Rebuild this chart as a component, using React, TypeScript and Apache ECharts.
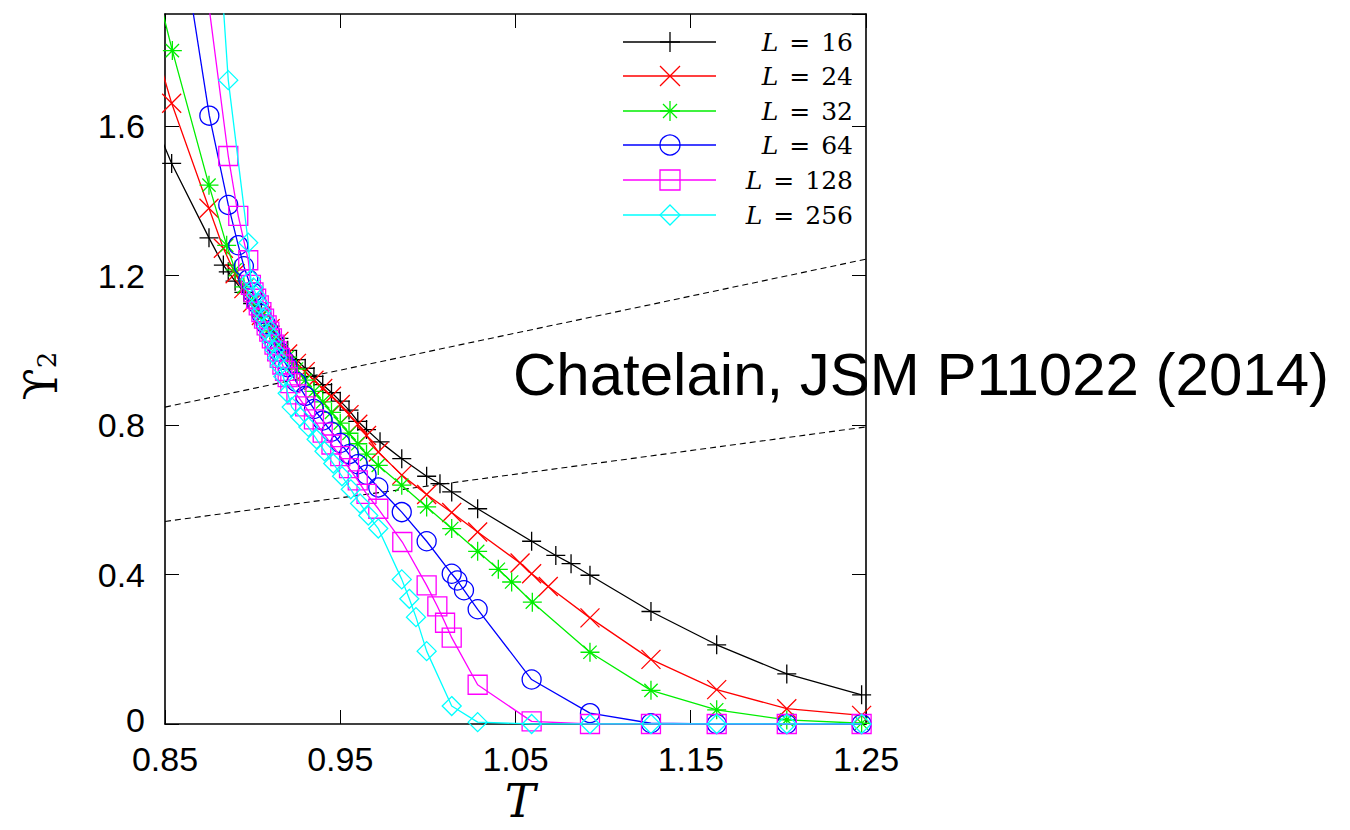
import React, { useEffect, useRef } from 'react';
import * as echarts from 'echarts';

// Axes
const X_MIN = 0.85;
const X_MAX = 1.25;
const X_STEP = 0.1;
const Y_MIN = 0;
const Y_MAX = 1.9;
const Y_STEP = 0.4;

// Series labels / colours
const SIZES = ['16', '24', '32', '64', '128', '256'];
const COLORS = ['#000000', '#ff0000', '#00ee00', '#0000ff', '#ff00ff', '#00ffff'];

// L = 16
const T16 = [0.8333, 0.8538, 0.8751, 0.8833, 0.8861, 0.89, 0.895, 0.9, 0.905, 0.91, 0.915, 0.92, 0.925, 0.93, 0.935, 0.94, 0.945, 0.95, 0.955, 0.96, 0.965, 0.9727, 0.9851, 0.9993, 1.0069, 1.0136, 1.0284, 1.0592, 1.073, 1.0817, 1.0925, 1.1273, 1.1648, 1.2048, 1.2475];
const Y16 = [1.73, 1.5, 1.301, 1.228, 1.21, 1.185, 1.155, 1.125, 1.095, 1.065, 1.032, 1.0, 0.975, 0.952, 0.93, 0.908, 0.887, 0.864, 0.84, 0.81, 0.788, 0.755, 0.71, 0.663, 0.643, 0.621, 0.576, 0.489, 0.451, 0.429, 0.398, 0.301, 0.212, 0.134, 0.078];

// L = 24
const T24 = [0.8333, 0.8538, 0.8751, 0.8833, 0.89, 0.895, 0.9, 0.905, 0.91, 0.915, 0.92, 0.925, 0.93, 0.935, 0.94, 0.945, 0.95, 0.955, 0.96, 0.965, 0.9717, 0.9851, 0.9993, 1.0136, 1.0284, 1.0526, 1.0592, 1.0687, 1.0925, 1.1273, 1.1648, 1.2048, 1.2475];
const Y24 = [1.99, 1.661, 1.38, 1.273, 1.205, 1.165, 1.128, 1.093, 1.058, 1.024, 0.99, 0.965, 0.943, 0.92, 0.898, 0.877, 0.855, 0.828, 0.802, 0.772, 0.728, 0.666, 0.614, 0.566, 0.514, 0.431, 0.402, 0.368, 0.284, 0.173, 0.092, 0.041, 0.023];

// L = 32
const T32 = [0.8333, 0.8542, 0.8751, 0.8852, 0.89, 0.895, 0.9, 0.905, 0.91, 0.915, 0.92, 0.925, 0.93, 0.935, 0.94, 0.945, 0.95, 0.955, 0.96, 0.965, 0.9717, 0.9851, 0.9993, 1.0136, 1.0284, 1.0402, 1.0478, 1.0596, 1.0925, 1.1273, 1.1648, 1.2048, 1.2475];
const Y32 = [2.19, 1.802, 1.442, 1.281, 1.215, 1.17, 1.13, 1.09, 1.052, 1.016, 0.982, 0.95, 0.92, 0.89, 0.862, 0.834, 0.805, 0.778, 0.75, 0.722, 0.692, 0.639, 0.581, 0.523, 0.462, 0.414, 0.38, 0.326, 0.192, 0.09, 0.038, 0.011, 0.002];

// L = 64
const T64 = [0.8333, 0.8538, 0.8753, 0.8861, 0.8918, 0.895, 0.8975, 0.9, 0.9025, 0.905, 0.9075, 0.91, 0.9125, 0.915, 0.9175, 0.92, 0.925, 0.93, 0.935, 0.94, 0.945, 0.95, 0.955, 0.96, 0.965, 0.9717, 0.9851, 0.9993, 1.0136, 1.0168, 1.0206, 1.0284, 1.0592, 1.0925, 1.1273, 1.1648, 1.2048, 1.2475];
const Y64 = [2.8, 2.27, 1.628, 1.389, 1.281, 1.225, 1.19, 1.155, 1.125, 1.097, 1.07, 1.045, 1.02, 0.997, 0.975, 0.955, 0.915, 0.878, 0.843, 0.812, 0.782, 0.752, 0.722, 0.695, 0.667, 0.633, 0.567, 0.489, 0.402, 0.384, 0.358, 0.307, 0.119, 0.029, 0.002, 0.0, 0.0, 0.0];

// L = 128
const T128 = [0.8538, 0.8751, 0.8861, 0.8918, 0.8975, 0.899, 0.9005, 0.902, 0.9035, 0.905, 0.9065, 0.908, 0.9095, 0.911, 0.9125, 0.914, 0.9155, 0.917, 0.9185, 0.92, 0.9215, 0.925, 0.93, 0.935, 0.94, 0.945, 0.95, 0.955, 0.96, 0.965, 0.9717, 0.9854, 0.9993, 1.0054, 1.0098, 1.0136, 1.0284, 1.0592, 1.0925, 1.1273, 1.1648, 1.2048, 1.2475];
const Y128 = [2.6, 1.92, 1.52, 1.36, 1.241, 1.175, 1.155, 1.138, 1.12, 1.102, 1.085, 1.067, 1.05, 1.032, 1.015, 0.997, 0.98, 0.962, 0.945, 0.928, 0.912, 0.882, 0.85, 0.815, 0.78, 0.748, 0.717, 0.685, 0.652, 0.616, 0.576, 0.487, 0.371, 0.315, 0.271, 0.231, 0.105, 0.007, 0.0, 0.0, 0.0, 0.0, 0.0];

// L = 256
const T256 = [0.875, 0.8861, 0.8975, 0.899, 0.9005, 0.902, 0.9035, 0.905, 0.9065, 0.908, 0.9095, 0.911, 0.9125, 0.914, 0.9155, 0.9175, 0.92, 0.9223, 0.927, 0.9318, 0.9365, 0.941, 0.946, 0.951, 0.956, 0.9613, 0.966, 0.9717, 0.9851, 0.9894, 0.9932, 0.9993, 1.0136, 1.0284, 1.0592, 1.0925, 1.1273, 1.1648, 1.2048, 1.2475];
const Y256 = [2.5, 1.723, 1.288, 1.19, 1.168, 1.147, 1.126, 1.105, 1.085, 1.064, 1.043, 1.022, 1.001, 0.98, 0.958, 0.93, 0.885, 0.848, 0.822, 0.795, 0.762, 0.73, 0.697, 0.663, 0.628, 0.59, 0.558, 0.523, 0.387, 0.335, 0.286, 0.195, 0.048, 0.005, 0.0, 0.0, 0.0, 0.0, 0.0, 0.0];

// Dashed reference lines
const DASH_T = [0.85, 1.25];
const DASH_UPPER = [0.848, 1.244];
const DASH_LOWER = [0.542, 0.795];

const NOTE = 'Chatelain, JSM P11022 (2014)';

const T_SETS = [T16, T24, T32, T64, T128, T256];
const Y_SETS = [Y16, Y24, Y32, Y64, Y128, Y256];

const SYMBOLS = [
  'path://M0,10L20,10M10,0L10,20',
  'path://M0,0L20,20M20,0L0,20',
  'path://M0,10L20,10M10,0L10,20M3,3L17,17M17,3L3,17',
  'circle',
  'rect',
  'diamond',
];

function legendMarker(i: number, cx: number, cy: number, color: string): any[] {
  const r = 10;
  const st = { stroke: color, lineWidth: 1.3, fill: 'none' };
  const ln = (x1: number, y1: number, x2: number, y2: number) => ({ type: 'line', shape: { x1, y1, x2, y2 }, style: st, silent: true });
  if (i === 0) return [ln(cx - r, cy, cx + r, cy), ln(cx, cy - r, cx, cy + r)];
  if (i === 1) return [ln(cx - r, cy - r, cx + r, cy + r), ln(cx + r, cy - r, cx - r, cy + r)];
  if (i === 2) return [ln(cx - r, cy, cx + r, cy), ln(cx, cy - r, cx, cy + r), ln(cx - 7, cy - 7, cx + 7, cy + 7), ln(cx + 7, cy - 7, cx - 7, cy + 7)];
  if (i === 3) return [{ type: 'circle', shape: { cx, cy, r }, style: st, silent: true }];
  if (i === 4) return [{ type: 'rect', shape: { x: cx - r, y: cy - r, width: 2 * r, height: 2 * r }, style: st, silent: true }];
  return [{ type: 'polygon', shape: { points: [[cx, cy - r], [cx + r, cy], [cx, cy + r], [cx - r, cy]] }, style: st, silent: true }];
}

export default function App() {
  const ref = useRef<HTMLDivElement>(null);

  useEffect(() => {
    if (!ref.current) return;
    const chart = echarts.init(ref.current, undefined, { renderer: 'svg' });

    const dataSeries = SIZES.map((s, i) => ({
      type: 'line',
      name: 'L = ' + s,
      data: T_SETS[i].map((t, k) => [t, Y_SETS[i][k]]),
      symbol: SYMBOLS[i],
      symbolSize: 19,
      showSymbol: true,
      lineStyle: { color: COLORS[i], width: 1.3 },
      itemStyle: { color: 'rgba(0,0,0,0)', borderColor: COLORS[i], borderWidth: 1.3 },
      clip: true,
      z: 3 + i,
      silent: true,
      emphasis: { disabled: true },
    }));

    const dashSeries = [DASH_UPPER, DASH_LOWER].map((ys) => ({
      type: 'line',
      data: DASH_T.map((t, k) => [t, ys[k]]),
      symbol: 'none',
      showSymbol: false,
      lineStyle: { color: '#000', width: 1.1, type: [6, 4] },
      clip: true,
      z: 2,
      silent: true,
      emphasis: { disabled: true },
    }));

    const legendRows = [42, 76, 111, 145, 180, 215];
    const legendGraphics: any[] = [];
    SIZES.forEach((s, i) => {
      const y = legendRows[i];
      legendGraphics.push({ type: 'line', shape: { x1: 623, y1: y, x2: 716, y2: y }, style: { stroke: COLORS[i], lineWidth: 1.3 }, silent: true });
      legendGraphics.push(...legendMarker(i, 670, y, COLORS[i]));
      legendGraphics.push({
        type: 'text',
        x: 853,
        y: y,
        silent: true,
        style: {
          text: '{i|L}{e|=}' + s,
          fontFamily: 'DejaVu Serif',
          fontSize: 25,
          fill: '#000',
          align: 'right',
          verticalAlign: 'middle',
          textAlign: 'right',
          textVerticalAlign: 'middle',
          rich: {
            i: { fontFamily: 'DejaVu Serif', fontStyle: 'italic', fontSize: 25, lineHeight: 26 },
            e: { fontFamily: 'DejaVu Serif', fontSize: 25, lineHeight: 26, padding: [0, 11, 0, 11] },
          },
        },
      });
    });

    const axisCommon = {
      type: 'value',
      axisLine: { show: true, onZero: false, lineStyle: { color: '#000', width: 1.6 } },
      axisTick: { show: true, inside: true, length: 14, lineStyle: { color: '#000', width: 1 } },
      splitLine: { show: false },
    };

    chart.setOption({
      animation: false,
      backgroundColor: '#ffffff',
      grid: { left: 165, right: 484, top: 14, bottom: 106, containLabel: false, outerBoundsMode: 'none' },
      xAxis: [
        {
          ...axisCommon,
          position: 'bottom',
          min: X_MIN,
          max: X_MAX,
          interval: X_STEP,
          axisLabel: { show: true, color: '#000', fontSize: 34, lineHeight: 26, fontFamily: 'Liberation Sans', margin: 22 },
        },
        {
          ...axisCommon,
          position: 'top',
          min: X_MIN,
          max: X_MAX,
          interval: X_STEP,
          axisLabel: { show: false },
        },
      ],
      yAxis: [
        {
          ...axisCommon,
          position: 'left',
          min: Y_MIN,
          max: Y_MAX,
          interval: Y_STEP,
          axisLabel: {
            show: true,
            color: '#000',
            fontSize: 34,
            lineHeight: 26,
            fontFamily: 'Liberation Sans',
            margin: 20,
            showMaxLabel: false,
            formatter: (v: number) => (v === 0 ? '{z|0}' : String(v)),
            rich: { z: { fontSize: 34, fontFamily: 'Liberation Sans', color: '#000', lineHeight: 26, padding: [0, 0, 8, 0] } },
          },
        },
        {
          ...axisCommon,
          position: 'right',
          min: Y_MIN,
          max: Y_MAX,
          interval: Y_STEP,
          axisLabel: { show: false },
        },
      ],
      series: [...dashSeries, ...dataSeries],
      graphic: [
        ...legendGraphics,
        {
          type: 'text',
          x: 513,
          y: 374,
          silent: true,
          z: 100,
          style: {
            text: NOTE,
            fontFamily: 'Liberation Sans',
            fontSize: 60,
            lineHeight: 50,
            fill: '#000',
            align: 'left',
            verticalAlign: 'middle',
            textAlign: 'left',
            textVerticalAlign: 'middle',
          },
        },
        {
          type: 'text',
          x: 40,
          y: 376,
          rotation: Math.PI / 2,
          silent: true,
          style: {
            text: '{u|\u03D2}{s|2}',
            fill: '#000',
            align: 'center',
            verticalAlign: 'middle',
            textAlign: 'center',
            textVerticalAlign: 'middle',
            rich: {
              u: { fontFamily: 'DejaVu Serif', fontSize: 47, lineHeight: 40 },
              s: { fontFamily: 'DejaVu Serif', fontSize: 26, lineHeight: 40, verticalAlign: 'bottom' },
            },
          },
        },
        {
          type: 'text',
          x: 520,
          y: 801,
          silent: true,
          style: {
            text: 'T',
            fontFamily: 'DejaVu Serif',
            fontStyle: 'italic',
            fontSize: 46,
            lineHeight: 36,
            fill: '#000',
            align: 'center',
            verticalAlign: 'middle',
            textAlign: 'center',
            textVerticalAlign: 'middle',
          },
        },
      ],
    });

    return () => {
      chart.dispose();
    };
  }, []);

  return <div ref={ref} style={{ position: 'absolute', left: 0, top: 0, width: 1350, height: 830 }} />;
}
